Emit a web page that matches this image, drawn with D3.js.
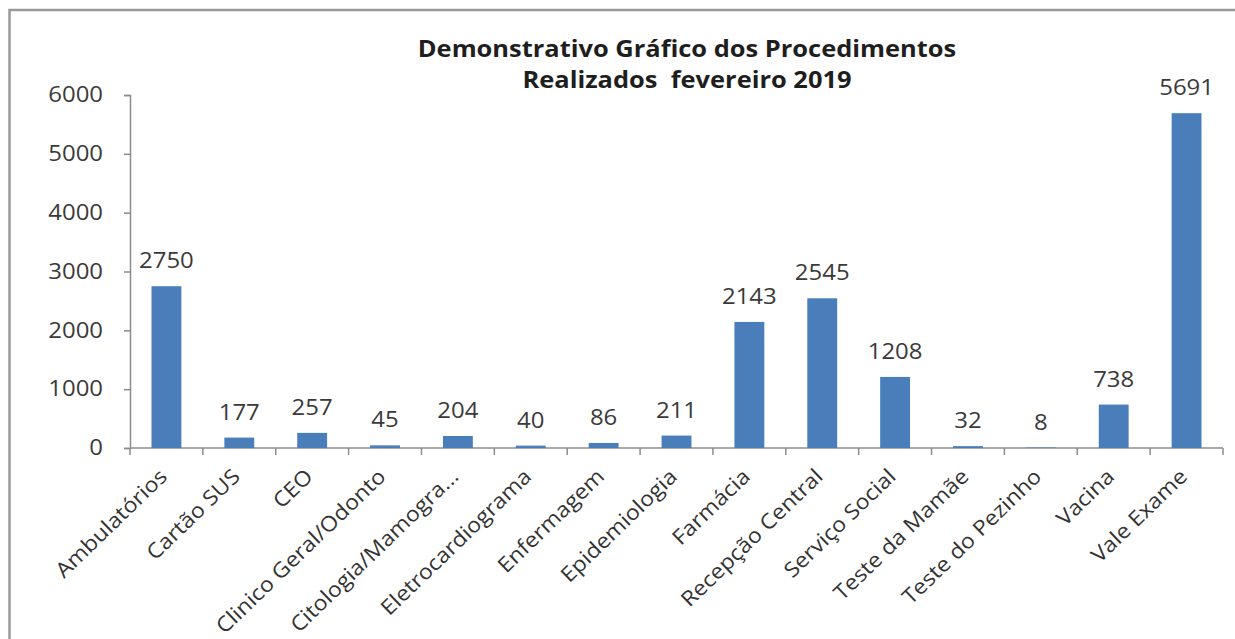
<!DOCTYPE html>
<html>
<head>
<meta charset="utf-8">
<script src="https://cdn.jsdelivr.net/npm/d3@7"></script>
<style>
  body { margin: 0; background: #fff; overflow: hidden; }
  svg { display: block; }
  svg text { font-family: "Open Sans", sans-serif; }
</style>
</head>
<body>
<div class="chart"></div>
<script>
var svgWidth = 1235;
var svgHeight = 639;

// chart data
var categories = ["Ambulatórios", "Cartão SUS", "CEO", "Clinico Geral/Odonto", "Citologia/Mamogra...",
  "Eletrocardiograma", "Enfermagem", "Epidemiologia", "Farmácia", "Recepção Central",
  "Serviço Social", "Teste da Mamãe", "Teste do Pezinho", "Vacina", "Vale Exame"];
var values = [2750, 177, 257, 45, 204, 40, 86, 211, 2143, 2545, 1208, 32, 8, 738, 5691];
var yTicks = [0, 1000, 2000, 3000, 4000, 5000, 6000];
var titleLines = ["Demonstrativo Gráfico dos Procedimentos", "Realizados  fevereiro 2019"];

var margin = { top: 95, right: 12, bottom: 191, left: 130 };
var width = svgWidth - margin.left - margin.right;
var height = svgHeight - margin.top - margin.bottom;

// the source text is a little wider than it is tall, stretch it sideways
function widen(sel, k) {
  sel.each(function () {
    var w = this.getComputedTextLength();
    d3.select(this)
      .attr("textLength", w * k)
      .attr("lengthAdjust", "spacingAndGlyphs");
  });
}

var svg = d3.select(".chart")
  .append("svg")
  .attr("width", svgWidth)
  .attr("height", svgHeight);

// outer frame (runs off the right and bottom edges)
svg.append("rect")
  .attr("x", 9.5)
  .attr("y", 10)
  .attr("width", svgWidth + 100)
  .attr("height", svgHeight + 100)
  .attr("fill", "none")
  .attr("stroke", "#9a9a9a")
  .attr("stroke-width", 2.5);

// title
var title = svg.append("g")
  .selectAll("text")
  .data(titleLines)
  .enter()
  .append("text")
  .attr("x", 687)
  .attr("y", (d, i) => 57 + i * 31)
  .attr("text-anchor", "middle")
  .attr("font-size", "24px")
  .attr("font-weight", "bold")
  .attr("fill", "#1e1e1e")
  .style("white-space", "pre")
  .text(d => d);
widen(title, 1.06);

var chartGroup = svg.append("g")
  .attr("transform", `translate(${margin.left}, ${margin.top})`);

var x = d3.scaleBand()
  .domain(categories)
  .range([0, width])
  .paddingInner(0.59)
  .paddingOuter(0.295);

var y = d3.scaleLinear()
  .domain([0, 6000])
  .range([height, 0]);

// y axis
var yAxis = chartGroup.append("g")
  .call(d3.axisLeft(y).tickValues(yTicks).tickFormat(d3.format("d")).tickSize(6).tickPadding(21));
yAxis.select(".domain").attr("stroke", "#8c8c8c").attr("stroke-width", 1.5);
yAxis.selectAll(".tick line").attr("stroke", "#8c8c8c").attr("stroke-width", 1.5);
var yLabels = yAxis.selectAll(".tick text")
  .attr("font-size", "21px")
  .attr("fill", "#3a3a3a")
  .attr("font-family", "Open Sans, sans-serif");
widen(yLabels, 1.14);

// x axis: ticks sit on band boundaries
var bandStep = width / categories.length;
var xAxisG = chartGroup.append("g")
  .attr("transform", `translate(0, ${height})`);
xAxisG.append("line")
  .attr("x1", 0).attr("x2", width)
  .attr("stroke", "#8c8c8c").attr("stroke-width", 1.5);
xAxisG.selectAll("line.tick")
  .data(d3.range(categories.length + 1))
  .enter()
  .append("line")
  .attr("class", "tick")
  .attr("x1", i => i * bandStep).attr("x2", i => i * bandStep)
  .attr("y1", 0).attr("y2", 7)
  .attr("stroke", "#8c8c8c").attr("stroke-width", 1.5);

var xLabels = xAxisG.selectAll("text")
  .data(categories)
  .enter()
  .append("text")
  .attr("transform", d => `translate(${x(d) + x.bandwidth() / 2 + 2}, 30) rotate(-44)`)
  .attr("text-anchor", "end")
  .attr("font-size", "21px")
  .attr("fill", "#333")
  .text(d => d);
widen(xLabels, 1.1);

// bars
chartGroup.selectAll("rect.bar")
  .data(values)
  .enter()
  .append("rect")
  .attr("class", "bar")
  .attr("x", (d, i) => x(categories[i]))
  .attr("y", d => y(d))
  .attr("width", x.bandwidth())
  .attr("height", d => height - y(d))
  .attr("fill", "#4a7ebb");

// value labels
var valueLabels = chartGroup.selectAll("text.value")
  .data(values)
  .enter()
  .append("text")
  .attr("class", "value")
  .attr("x", (d, i) => x(categories[i]) + x.bandwidth() / 2)
  .attr("y", d => y(d) - 18)
  .attr("text-anchor", "middle")
  .attr("font-size", "21px")
  .attr("fill", "#3a3a3a")
  .text(d => d);
widen(valueLabels, 1.14);
</script>
</body>
</html>
